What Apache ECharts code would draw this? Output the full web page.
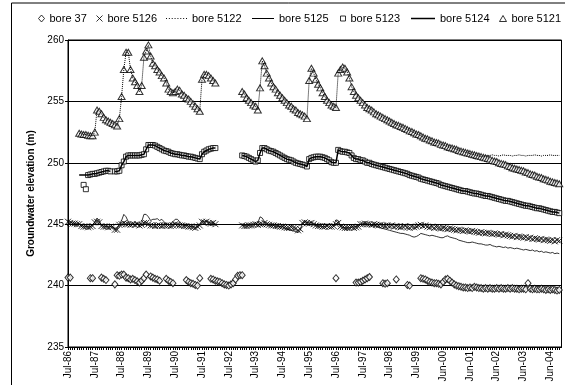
<!DOCTYPE html>
<html>
<head>
<meta charset="utf-8">
<script src="https://cdn.jsdelivr.net/npm/echarts@6/dist/echarts.min.js"></script>
<style>
  html, body { margin: 0; padding: 0; background: #fff; }
  #chart { width: 565px; height: 385px; }
</style>
</head>
<body>
<div id="chart"></div>
<script>
// x axis runs in months from Jul-86; one label per 12 months
const tickLabels = ['Jul-86', 'Jul-87', 'Jul-88', 'Jul-89', 'Jul-90', 'Jul-91', 'Jul-92',
  'Jul-93', 'Jul-94', 'Jul-95', 'Jul-96', 'Jul-97', 'Jul-98', 'Jul-99',
  'Jun-00', 'Jun-01', 'Jun-02', 'Jun-03', 'Jun-04'];

// monthly readings, index 0 = Jul-86, null = no reading
const bore37 = [
  240.65,240.65,null,null,null,null,null,null,null,null,240.6,240.6,
  null,null,null,240.65,240.55,240.45,null,null,null,240.1,240.85,240.8,
  240.9,240.9,240.65,240.6,240.5,240.55,240.45,240.35,240.25,240.4,240.6,240.9,
  null,240.75,240.65,240.55,240.5,240.4,null,null,240.55,240.4,240.3,240.2,
  null,null,null,null,null,240.45,240.3,240.2,240.15,240.05,240.0,240.6,
  null,null,null,null,240.55,240.5,240.4,240.35,240.3,240.2,240.1,240.05,
  240.0,240.1,240.2,240.5,240.8,240.85,240.85,null,null,null,null,null,
  null,null,null,null,null,null,null,null,null,null,null,null,
  null,null,null,null,null,null,null,null,null,null,null,null,
  null,null,null,null,null,null,null,null,null,null,null,null,
  240.6,null,null,null,null,null,null,null,null,240.25,240.25,240.3,
  240.4,240.5,240.6,240.7,null,null,null,null,null,240.2,240.15,240.2,
  null,null,null,240.5,null,null,null,null,240.05,240.0,null,null,
  null,null,240.6,240.55,240.5,240.4,240.3,240.25,240.2,240.2,240.15,240.1,
  240.3,240.5,240.55,240.4,240.25,240.1,240.0,239.95,239.9,239.85,239.85,239.8,
  239.85,239.8,239.9,239.85,239.8,239.8,239.75,239.8,239.75,239.8,239.75,239.75,
  239.8,239.75,239.8,239.75,239.75,239.8,239.75,239.8,239.75,239.75,239.7,239.75,
  239.75,239.7,240.2,239.75,239.7,239.75,239.7,239.7,239.75,239.7,239.65,239.7,
  239.65,239.7,239.65,239.6,239.65
];

const bore5126 = [
  245.2,245.1,245.05,245.05,245.0,245.0,244.85,244.8,244.8,244.75,244.8,244.85,
  245.15,245.2,245.15,244.85,244.8,244.8,244.75,244.8,244.8,244.55,244.55,244.95,
  245.0,245.1,245.0,245.0,244.95,245.0,244.95,245.0,244.9,244.95,245.1,245.1,
  245.0,244.9,244.9,244.85,244.9,244.9,244.85,244.9,244.9,244.9,244.85,244.9,
  245.0,244.95,244.9,244.9,244.85,244.85,244.8,244.8,244.75,244.7,244.8,244.9,
  245.2,245.15,245.2,245.1,245.05,245.1,245.0,null,null,null,null,null,
  null,null,null,null,null,null,244.9,244.85,244.85,244.9,244.9,244.95,
  245.0,244.95,245.0,245.0,245.1,245.0,244.95,244.9,244.9,244.85,244.85,244.8,
  244.8,244.75,244.7,244.7,244.75,244.7,244.65,244.5,244.6,245.1,245.15,245.1,
  245.05,245.1,245.0,244.9,244.85,244.85,244.8,244.8,244.85,244.8,244.8,244.85,
  245.0,245.1,244.8,244.75,244.7,244.7,244.7,244.75,244.7,244.75,244.8,245.0,
  245.0,245.05,245.0,245.0,244.95,245.0,244.95,244.9,244.95,244.9,244.85,244.9,
  244.85,244.9,244.8,244.85,244.8,244.75,244.8,244.85,244.75,244.7,244.8,244.75,
  244.8,244.9,244.95,244.85,244.9,244.8,244.75,244.8,244.7,244.75,244.7,244.65,
  244.7,244.65,244.6,244.65,244.6,244.55,244.5,244.55,244.5,244.45,244.5,244.45,
  244.4,244.45,244.4,244.35,244.3,244.35,244.3,244.25,244.3,244.25,244.2,244.25,
  244.2,244.15,244.2,244.1,244.15,244.1,244.05,244.0,244.05,243.95,244.0,243.95,
  243.9,243.95,243.85,243.9,243.8,243.85,243.8,243.75,243.8,243.7,243.75,243.7,
  243.65,243.7,243.6,243.7,243.65
];

const bore5125 = [
  245.3,245.2,245.1,245.05,245.0,245.0,244.9,244.85,244.8,244.8,244.8,244.9,
  245.2,245.5,245.3,244.9,244.85,244.8,244.8,244.8,244.8,244.6,244.6,245.0,
  245.3,245.8,245.6,245.2,245.0,245.0,245.0,245.05,245.0,245.2,245.8,245.8,
  245.6,245.3,245.4,245.4,245.45,245.3,245.4,245.2,245.0,244.95,245.0,245.2,
  245.4,245.4,245.2,245.0,244.9,244.9,244.85,244.8,244.8,244.75,244.8,245.0,
  245.3,245.2,245.25,245.15,245.1,245.1,245.0,null,null,null,null,null,
  null,null,null,null,null,null,244.9,244.9,244.85,244.9,244.95,245.0,
  245.0,245.1,245.6,245.5,245.2,245.0,244.95,244.9,244.9,244.85,244.85,244.8,
  244.8,244.7,244.6,244.55,244.5,244.45,244.4,244.3,244.5,245.1,245.2,245.15,
  245.1,245.15,245.0,244.9,244.85,244.85,244.8,244.8,244.9,245.0,244.95,244.9,
  245.35,245.3,244.9,244.75,244.7,244.7,244.7,244.75,244.8,244.8,244.9,245.0,
  245.0,245.05,245.0,244.95,244.9,244.9,244.85,244.75,244.7,244.65,244.6,244.55,
  244.5,244.45,244.4,244.35,244.3,244.25,244.25,244.2,244.15,244.1,244.0,243.95,
  244.0,244.1,244.25,244.2,244.15,244.1,244.05,244.1,244.05,244.0,243.95,243.9,
  243.9,244.0,244.05,243.95,243.9,243.85,243.8,243.7,243.65,243.6,243.55,243.5,
  243.5,243.55,243.5,243.45,243.4,243.4,243.35,243.3,243.3,243.35,243.25,243.2,
  243.15,243.2,243.15,243.1,243.15,243.05,243.1,243.05,243.0,243.05,243.0,242.95,
  242.9,242.95,242.9,242.85,242.9,242.8,242.85,242.75,242.8,242.7,242.75,242.7,
  242.65,242.7,242.6,242.65,242.6
];

const bore5123 = [
  null,null,null,null,null,null,null,248.2,247.85,249.0,249.05,249.1,
  249.1,249.15,249.2,249.25,249.3,249.35,249.35,249.3,null,249.3,249.3,249.35,
  249.8,250.1,250.5,250.6,250.6,250.6,250.6,250.6,250.6,250.65,250.7,251.1,
  251.45,251.45,251.45,251.4,251.3,251.2,251.1,251.0,250.95,250.9,250.8,250.75,
  250.7,250.7,250.65,250.6,250.6,250.55,250.5,250.5,250.45,250.4,250.35,250.3,
  250.7,250.9,251.0,251.1,251.15,251.2,251.2,null,null,null,null,null,
  null,null,null,null,null,null,250.6,250.55,250.5,250.4,250.3,250.2,
  250.1,250.2,250.8,251.2,251.2,251.1,251.0,250.95,250.9,250.8,250.7,250.6,
  250.5,250.4,250.3,250.25,250.2,250.1,250.0,249.95,249.9,249.85,249.8,249.7,
  250.3,250.4,250.45,250.5,250.5,250.5,250.45,250.4,250.3,250.2,250.05,250.0,
  250.0,251.05,250.95,250.9,250.9,250.85,250.8,250.6,250.4,250.3,250.3,250.2,
  250.2,250.1,250.0,250.0,249.9,249.85,249.8,249.75,249.7,249.65,249.6,249.55,
  249.5,249.45,249.4,249.35,249.3,249.25,249.2,249.15,249.1,249.0,248.95,248.9,
  248.85,248.8,248.7,248.65,248.6,248.55,248.5,248.45,248.4,248.35,248.3,248.2,
  248.15,248.1,248.05,248.0,247.95,247.9,247.85,247.8,247.75,247.7,247.7,247.65,
  247.6,247.55,247.5,247.5,247.45,247.4,247.35,247.3,247.3,247.25,247.2,247.15,
  247.1,247.05,247.0,246.95,246.9,246.9,246.85,246.8,246.75,246.7,246.65,246.6,
  246.55,246.5,246.5,246.45,246.4,246.35,246.3,246.3,246.25,246.2,246.15,246.1,
  246.05,246.0,246.0,245.95,245.9
];

// bore 5124 line sits on the 5123 squares apart from its first months
const bore5124Start = [null,null,null,null,null,249.0,249.0,249.0,249.0];
const bore5124 = bore5124Start.concat(bore5123.slice(bore5124Start.length));

const bore5121 = [
  null,null,null,null,null,252.4,252.35,252.3,252.3,252.25,252.2,252.2,
  252.5,254.3,254.2,254.0,253.7,253.5,253.4,253.3,253.2,253.1,253.0,253.6,
  255.4,257.6,259.0,259.0,257.6,256.9,256.6,256.3,255.8,256.3,258.6,259.1,
  259.6,258.7,258.1,257.9,257.6,257.4,257.1,256.9,256.5,256.0,255.8,255.7,
  255.8,256.0,255.9,255.6,255.5,255.3,255.2,255.0,254.8,254.6,254.4,254.2,
  256.8,257.2,257.2,257.1,256.9,256.7,256.5,null,null,null,null,null,
  null,null,null,null,null,null,255.8,255.6,255.3,255.1,254.9,254.7,
  254.6,254.3,256.1,258.3,257.9,257.3,256.9,256.5,256.2,256.0,255.7,255.5,
  255.3,255.1,254.9,254.7,254.6,254.4,254.3,254.1,254.0,253.9,253.8,253.6,
  256.7,257.7,257.3,256.8,256.4,256.1,255.7,255.4,255.1,254.9,254.7,254.6,
  254.5,257.3,257.6,257.8,257.7,257.4,256.9,256.2,255.8,255.5,255.3,255.1,
  254.9,254.7,254.5,254.4,254.3,254.15,254.0,253.9,253.8,253.7,253.6,253.5,
  253.4,253.3,253.2,253.1,253.05,252.95,252.9,252.8,252.7,252.6,252.55,252.45,
  252.35,252.3,252.2,252.1,252.0,251.95,251.85,251.8,251.7,251.65,251.6,251.5,
  251.45,251.4,251.3,251.25,251.2,251.15,251.1,251.0,250.95,250.9,250.85,250.8,
  250.75,250.7,250.65,250.6,250.55,250.5,250.45,250.4,250.35,250.3,250.2,250.15,
  250.1,250.0,249.95,249.9,249.85,249.75,249.7,249.6,249.55,249.5,249.45,249.4,
  249.35,249.25,249.2,249.1,249.05,249.0,248.9,248.85,248.8,248.7,248.65,248.6,
  248.5,248.45,248.4,248.35,248.3
];

// bore 5122 follows 5121, then stays flat from about Jan-02
const bore5122Tail = [
  250.5,250.55,250.6,250.6,250.65,250.6,250.6,250.55,250.6,250.65,
  250.6,250.6,250.6,250.55,250.6,250.6,250.65,250.6,250.6,250.55,
  250.6,250.6,250.6,250.65,250.6,250.6,250.55,250.6,250.6,250.6,
  250.65,250.6,250.6,250.6,250.6
];
const bore5122 = bore5121.slice(0, bore5121.length - bore5122Tail.length).concat(bore5122Tail);

const font = "'Liberation Sans', Arial, sans-serif";
const crossPath = 'path://M0,0L10,10M10,0L0,10';
const dotsPath = 'path://M0,0h1v1h-1zM3,0h1v1h-1zM6,0h1v1h-1zM9,0h1v1h-1zM12,0h1v1h-1zM15,0h1v1h-1zM18,0h1v1h-1zM21,0h1v1h-1z';

function toPoints(vals) {
  return vals.map(function (v, m) { return [m, v == null ? '-' : v]; });
}

const hollow = { color: '#fff', borderColor: '#000', borderWidth: 1 };
const solid = { color: '#000', borderWidth: 0 };

function legendAt(name, icon, style, left, w, h) {
  return {
    data: [{ name: name, icon: icon, itemStyle: style }],
    left: left, top: 13, itemWidth: w, itemHeight: h,
    symbolKeepAspect: false, selectedMode: false, padding: 0,
    textStyle: { color: '#000', fontSize: 11, fontFamily: font }
  };
}

const chart = echarts.init(document.getElementById('chart'));

chart.setOption({
  animation: false,
  backgroundColor: '#fff',
  textStyle: { fontFamily: font },
  graphic: [{
    type: 'rect', silent: true,
    shape: { x: 11.5, y: 3, width: 600, height: 420 },
    style: { fill: 'none', stroke: '#000', lineWidth: 1 }
  }],
  legend: [
    legendAt('bore 37', 'diamond', hollow, 38, 6, 7),
    legendAt('bore 5126', crossPath, { color: 'none', borderColor: '#000', borderWidth: 1 }, 94, 6, 6),
    legendAt('bore 5122', dotsPath, solid, 166, 21, 1),
    legendAt('bore 5125', 'rect', solid, 252, 22, 1),
    legendAt('bore 5123', 'rect', hollow, 340, 5, 5),
    legendAt('bore 5124', 'rect', solid, 411, 24, 1.5),
    legendAt('bore 5121', 'triangle', hollow, 499, 7, 6)
  ],
  grid: {
    left: 68, right: 3.5, top: 40, bottom: 38,
    show: true, borderColor: '#000', borderWidth: 1,
    containLabel: false, outerBoundsMode: 'none'
  },
  xAxis: {
    type: 'value', min: 0, max: 221, interval: 1,
    axisLine: { show: true, lineStyle: { color: '#000', width: 1 } },
    axisTick: { show: true, length: 3, lineStyle: { color: '#000' } },
    splitLine: { show: false },
    axisLabel: {
      rotate: 90, fontSize: 10, color: '#000', margin: 4, fontFamily: font,
      showMaxLabel: false,
      formatter: function (v) {
        return v % 12 === 0 && tickLabels[v / 12] ? tickLabels[v / 12] : '';
      }
    }
  },
  yAxis: {
    type: 'value', min: 235, max: 260, interval: 5,
    name: 'Groundwater elevation (m)', nameLocation: 'middle', nameGap: 32,
    nameTextStyle: { fontSize: 10, fontWeight: 'bold', color: '#000', fontFamily: font },
    axisLine: { show: true, lineStyle: { color: '#000', width: 1 } },
    axisTick: { show: true, length: 3, lineStyle: { color: '#000' } },
    splitLine: { show: true, lineStyle: { color: '#000', width: 1 } },
    axisLabel: { fontSize: 10, color: '#000', margin: 4, fontFamily: font }
  },
  series: [
    {
      name: 'bore 37', type: 'scatter', data: toPoints(bore37),
      symbol: 'diamond', symbolSize: [6, 7], itemStyle: hollow
    },
    {
      name: 'bore 5126', type: 'scatter', data: toPoints(bore5126),
      symbol: crossPath, symbolSize: 6,
      itemStyle: { color: 'none', borderColor: '#000', borderWidth: 1 }
    },
    {
      name: 'bore 5122', type: 'line', data: toPoints(bore5122), symbol: 'none',
      lineStyle: { color: '#000', width: 1, type: 'dotted' }, itemStyle: { color: '#000' }
    },
    {
      name: 'bore 5125', type: 'line', data: toPoints(bore5125), symbol: 'none',
      lineStyle: { color: '#000', width: 0.8 }, itemStyle: { color: '#000' }
    },
    {
      name: 'bore 5123', type: 'scatter', data: toPoints(bore5123),
      symbol: 'rect', symbolSize: 5, itemStyle: hollow
    },
    {
      name: 'bore 5124', type: 'line', data: toPoints(bore5124), symbol: 'none',
      lineStyle: { color: '#000', width: 1.5 }, itemStyle: { color: '#000' }
    },
    {
      name: 'bore 5121', type: 'scatter', data: toPoints(bore5121),
      symbol: 'triangle', symbolSize: [7, 6], itemStyle: hollow
    }
  ]
});
</script>
</body>
</html>
